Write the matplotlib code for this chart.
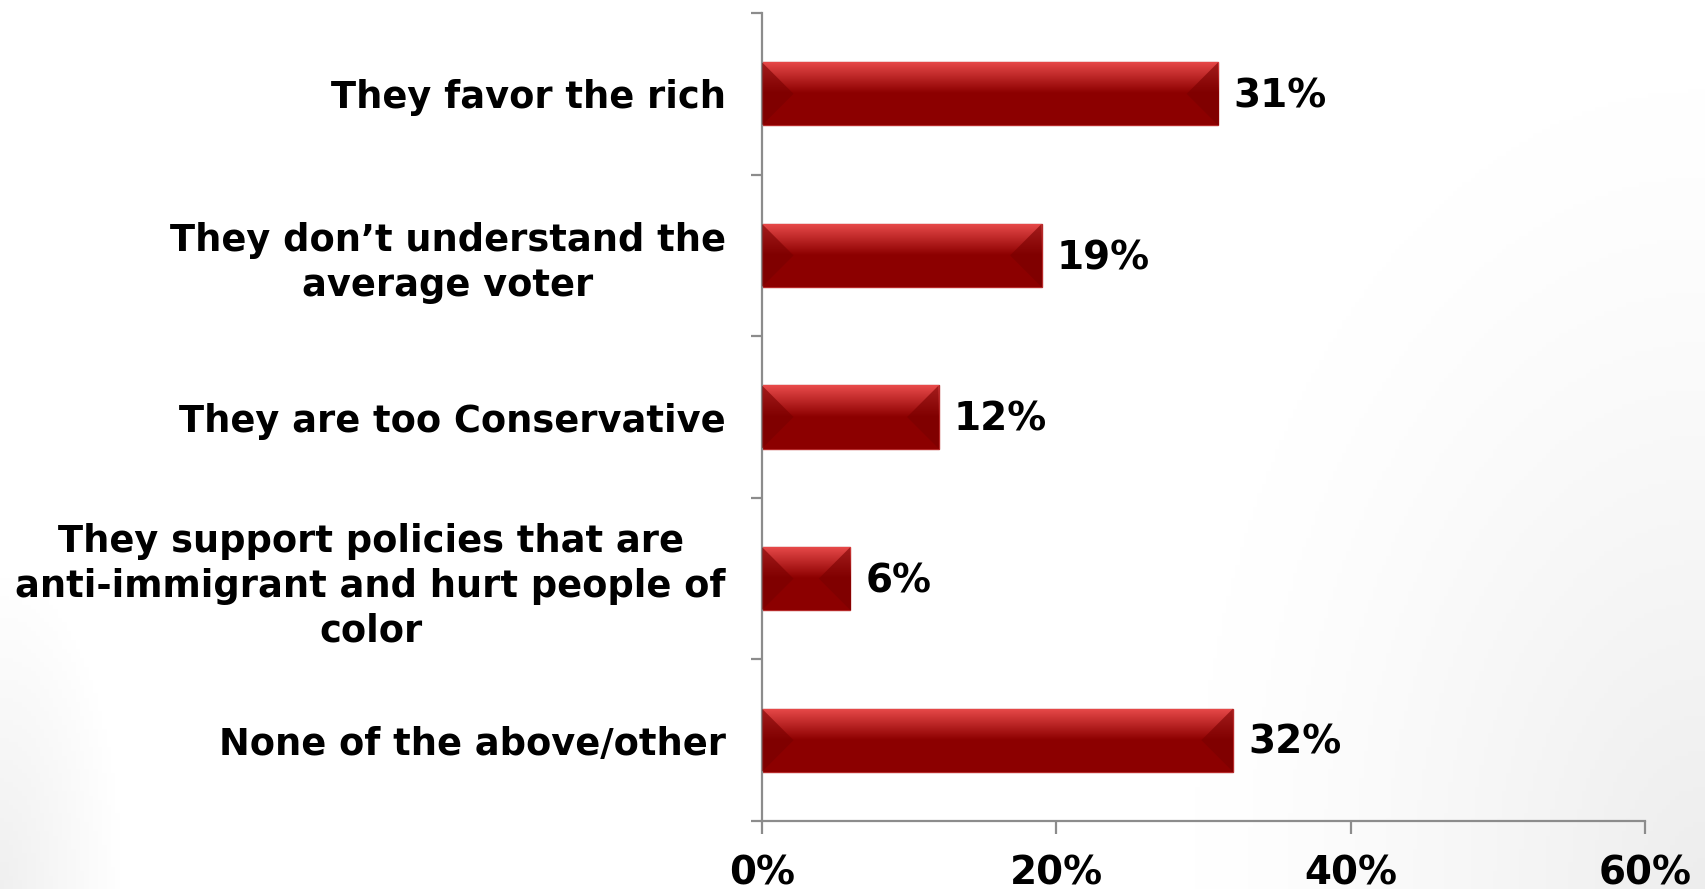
import numpy as np
import matplotlib
matplotlib.use("Agg")
from matplotlib import pyplot as plt
from matplotlib.patches import Polygon
from matplotlib.ticker import FixedLocator, PercentFormatter

categories = [
    "They favor the rich",
    "They don\u2019t understand the\naverage voter",
    "They are too Conservative",
    "They support policies that are\nanti-immigrant and hurt people of\ncolor",
    "None of the above/other",
]
values = [31, 19, 12, 6, 32]
x_ticks = [0, 20, 40, 60]

plt.rcParams['font.family'] = ['DejaVu Sans']

fig = plt.figure(figsize=(17.06, 8.89), dpi=100)

# soft grey shading in the lower corners of the slide
bg = fig.add_axes([0, 0, 1, 1], zorder=-10)
h, w = 200, 384
yy, xx = np.mgrid[0:h, 0:w]
yy = yy / (h - 1)
xx = xx / (w - 1)
d_left = np.sqrt((xx / 0.07) ** 2 + ((1 - yy) / 0.35) ** 2)
d_right = np.sqrt(((1 - xx) / 0.3) ** 2 + ((1 - yy) / 0.9) ** 2)
shade = 0.06 * np.clip(1 - d_left, 0, 1) + 0.07 * np.clip(1 - d_right, 0, 1) ** 1.3
img = np.dstack([1 - shade] * 3)
bg.imshow(img, extent=[0, 1, 0, 1], aspect='auto', origin='upper')
bg.axis('off')

ax = fig.add_axes([762 / 1706, 1 - 821 / 889, (1645 - 762) / 1706, (821 - 13) / 889])
ax.patch.set_alpha(0)

pos = np.arange(len(categories))
bars = ax.barh(pos, values, height=0.39, color='#8b0000', edgecolor='#b52a2a',
               linewidth=1, zorder=2)

ax.set_xlim(0, 60)
ax.set_ylim(len(categories) - 0.5, -0.5)

# glossy top highlight on each bar
grad = np.linspace(0, 1, 64)[:, None]
top = np.array([0.91, 0.29, 0.29])
mid = np.array([0.55, 0.0, 0.0])
t = np.clip(grad / 0.5, 0, 1)[:, :, None]
gimg = top * (1 - t) + mid * t
gimg = np.repeat(gimg, 2, axis=1)

# bevel size: half the bar height, converted to x data units
fig.canvas.draw()
px_per_x = ax.get_window_extent().width / 60
px_per_y = ax.get_window_extent().height / len(categories)

for b in bars:
    x0, y0 = b.get_x(), b.get_y()
    bw, bh = b.get_width(), b.get_height()
    im = ax.imshow(gimg, extent=[x0, x0 + bw, y0 + bh, y0], aspect='auto',
                   origin='upper', zorder=2.5, interpolation='bilinear')
    im.set_clip_path(b)
    bev = bh * px_per_y / 2 / px_per_x
    ym = y0 + bh / 2
    for xe, xi in [(x0, x0 + bev), (x0 + bw, x0 + bw - bev)]:
        tri = Polygon([(xe, y0), (xi, ym), (xe, y0 + bh)], closed=True,
                      facecolor='#780000', edgecolor='none', alpha=0.6, zorder=2.6)
        ax.add_patch(tri)
    ax.add_patch(Polygon(b.get_verts(), closed=True, fill=False,
                         edgecolor='#b52a2a', linewidth=1, zorder=2.7))

for b, v in zip(bars, values):
    ax.annotate(f"{v}%", (b.get_width(), b.get_y() + b.get_height() / 2),
                xytext=(11, -2), textcoords='offset points', va='center', ha='left',
                fontsize=28, fontweight='bold', color='black')

for s in ['top', 'right']:
    ax.spines[s].set_visible(False)
for s in ['left', 'bottom']:
    ax.spines[s].set_color('#8c8c8c')
    ax.spines[s].set_linewidth(1.6)

ax.set_xticks(x_ticks)
ax.xaxis.set_major_formatter(PercentFormatter(decimals=0))
ax.tick_params(axis='x', length=9, width=1.6, color='#8c8c8c', pad=15,
               labelsize=28)
for lb in ax.get_xticklabels():
    lb.set_fontweight('bold')

ax.set_yticks(pos)
ax.set_yticklabels(categories)
ax.yaxis.set_minor_locator(FixedLocator(np.arange(-0.5, len(categories), 1.0)))
ax.tick_params(axis='y', which='major', length=0, pad=26, labelsize=26.5)
ax.tick_params(axis='y', which='minor', length=8, width=1.6, color='#8c8c8c')
for lb in ax.get_yticklabels():
    lb.set_fontweight('bold')
    lb.set_multialignment('center')
    lb.set_linespacing(1.27)

fig.savefig("out.png", dpi=100)
